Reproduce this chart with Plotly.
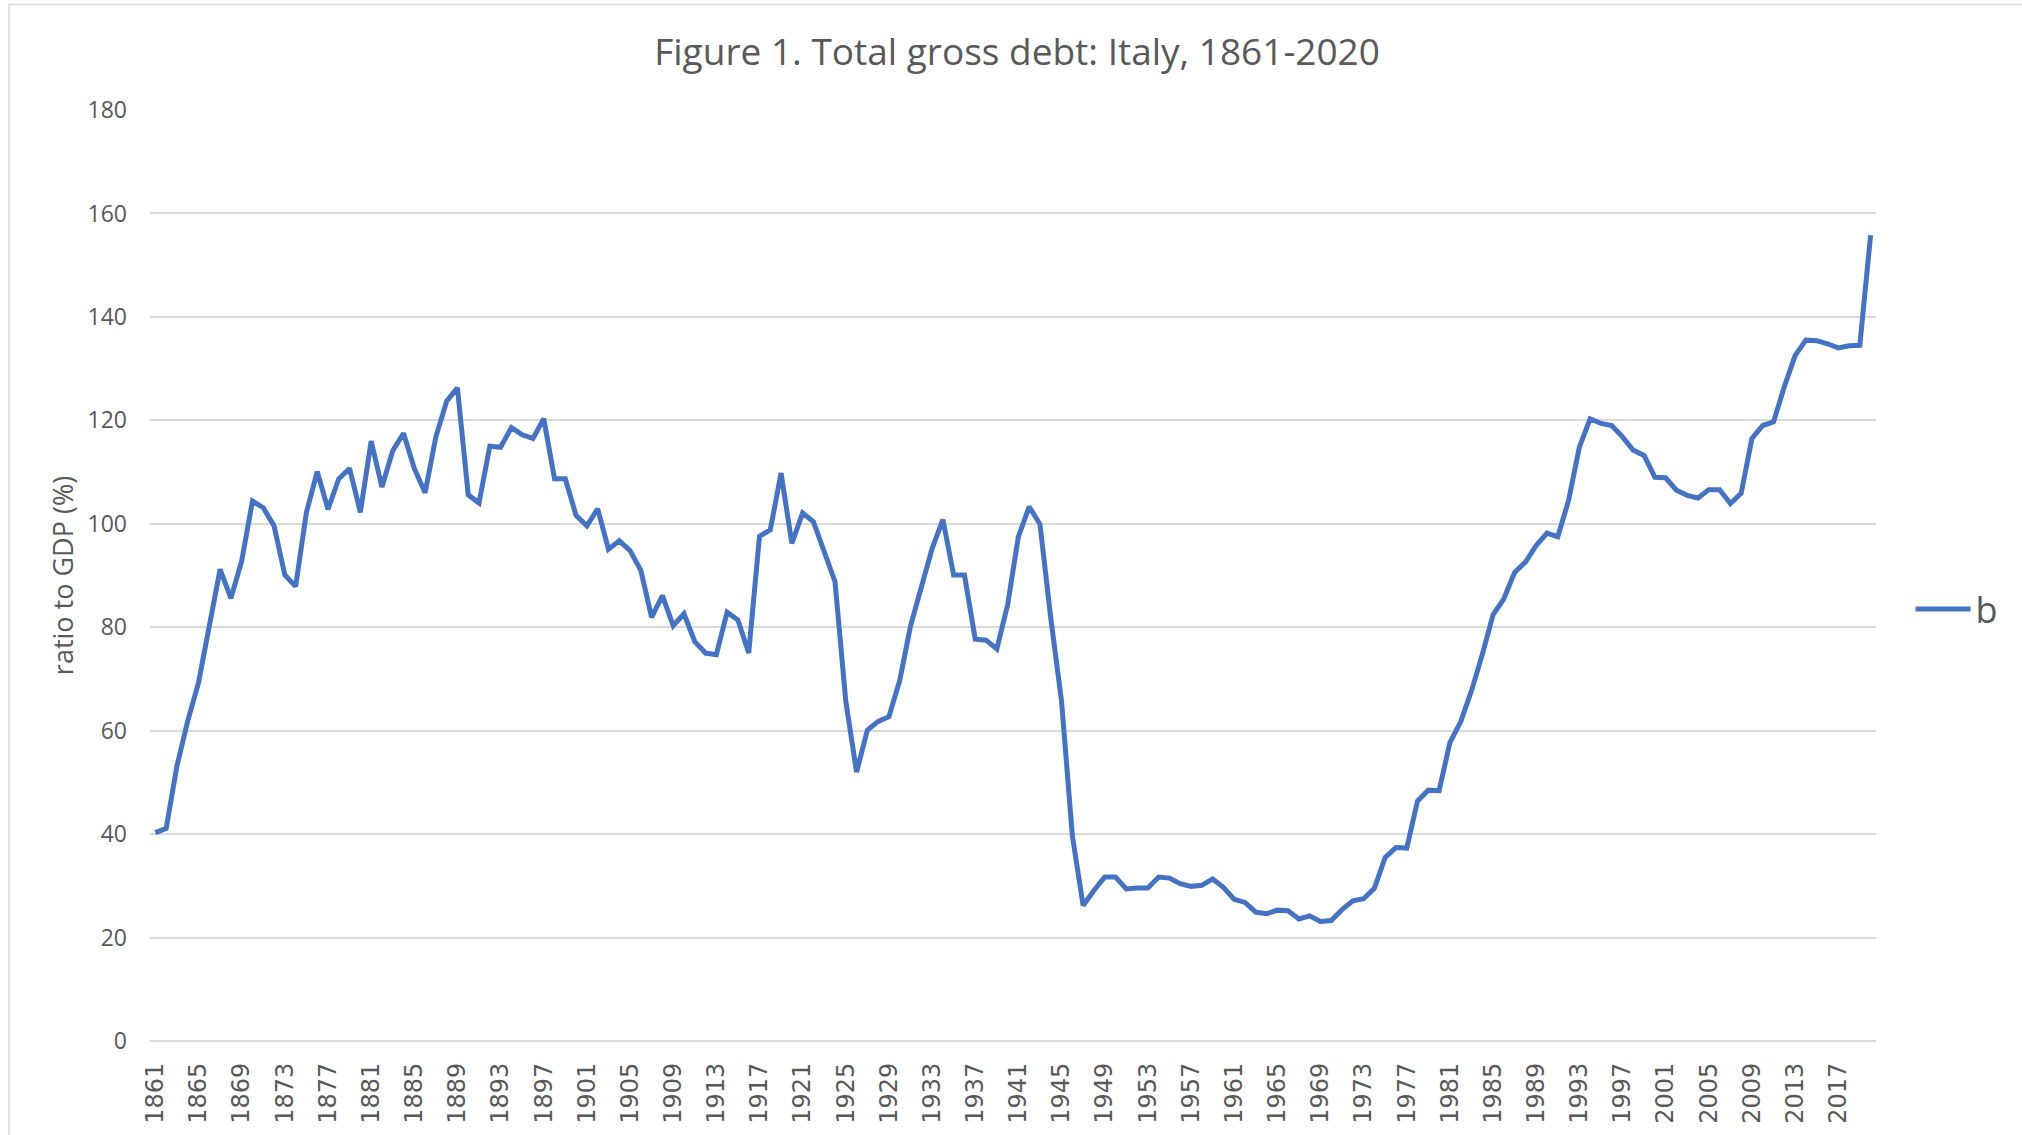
import plotly.graph_objects as go

years = list(range(1861, 2021))
debt_ratio = [
    40.3, 41.1, 53.2, 61.9, 69.3, 80.9, 91.2, 85.6, 92.8, 104.4,
    103.1, 99.6, 90.1, 87.9, 102.2, 110.1, 102.8, 108.7, 110.7, 102.2,
    116.0, 107.1, 114.1, 117.5, 110.7, 106.0, 116.8, 123.7, 126.3, 105.6,
    104.0, 115.0, 114.8, 118.6, 117.2, 116.5, 120.3, 108.7, 108.7, 101.6,
    99.6, 102.9, 95.1, 96.7, 94.8, 91.0, 81.9, 86.1, 80.3, 82.6,
    77.2, 75.0, 74.7, 82.9, 81.4, 75.0, 97.6, 98.8, 109.8, 96.2,
    102.1, 100.4, 94.6, 88.8, 65.7, 52.0, 60.1, 61.8, 62.7, 69.7,
    80.2, 87.5, 95.2, 100.8, 90.1, 90.1, 77.7, 77.5, 75.8, 84.3,
    97.5, 103.3, 99.9, 81.8, 65.7, 39.7, 26.2, 29.1, 31.7, 31.7,
    29.4, 29.6, 29.6, 31.7, 31.5, 30.4, 29.9, 30.1, 31.3, 29.7,
    27.4, 26.8, 24.9, 24.6, 25.3, 25.2, 23.6, 24.2, 23.1, 23.3,
    25.4, 27.1, 27.5, 29.5, 35.5, 37.4, 37.3, 46.4, 48.5, 48.4,
    57.7, 61.7, 67.7, 74.7, 82.4, 85.5, 90.6, 92.6, 95.8, 98.2,
    97.5, 104.5, 114.8, 120.3, 119.4, 119.0, 116.8, 114.2, 113.2, 109.0,
    108.9, 106.5, 105.5, 105.0, 106.6, 106.6, 103.9, 105.9, 116.5, 119.0,
    119.7, 126.5, 132.5, 135.5, 135.4, 134.8, 134.0, 134.4, 134.5, 155.8,
]
x_ticks = years[::4]
y_ticks = list(range(0, 181, 20))

GRID = "#D9D9D9"
TEXT = "#595959"

fig = go.Figure()
fig.add_trace(go.Scatter(
    x=years, y=debt_ratio, mode="lines", name="b",
    line=dict(color="#4472C4", width=5),
))

fig.update_layout(
    width=2022, height=1135,
    paper_bgcolor="white", plot_bgcolor="white",
    margin=dict(l=150, r=146, t=110, b=94),
    title=dict(
        text="Figure 1. Total gross debt: Italy, 1861-2020",
        x=0.503, xanchor="center", y=1 - 52 / 1135, yanchor="middle",
        font=dict(family="Open Sans", size=37, color=TEXT),
    ),
    showlegend=True,
    legend=dict(
        x=1.02, xanchor="left", y=0.464, yanchor="middle",
        itemwidth=55,
        font=dict(family="Open Sans", size=36, color=TEXT),
        bgcolor="rgba(0,0,0,0)",
    ),
    xaxis=dict(
        range=[1860.5, 2020.5], tickmode="array", tickvals=x_ticks,
        ticktext=[str(v) for v in x_ticks], tickangle=-90,
        showgrid=False, zeroline=False, showline=False, ticks="",
        ticklabelstandoff=16,
        tickfont=dict(family="DejaVu Sans", size=24, color=TEXT),
    ),
    yaxis=dict(
        range=[0, 180], tickmode="array", tickvals=y_ticks,
        showgrid=True, gridcolor=GRID, gridwidth=1.5,
        zeroline=True, zerolinecolor=GRID, zerolinewidth=1.5,
        showline=False, ticks="", ticklabelstandoff=22,
        tickfont=dict(family="Open Sans", size=23, color=TEXT),
        title=dict(text="ratio to GDP (%)", standoff=6,
                   font=dict(family="Open Sans", size=27, color=TEXT)),
    ),
)

# chart border (top and left edges visible in the original)
fig.add_shape(type="line", xref="paper", yref="paper",
              x0=(9 - 150) / 1726, x1=(2022 - 150) / 1726,
              y0=(1041 - 4.5) / 931, y1=(1041 - 4.5) / 931,
              line=dict(color=GRID, width=1.5))
fig.add_shape(type="line", xref="paper", yref="paper",
              x0=(9 - 150) / 1726, x1=(9 - 150) / 1726,
              y0=(1041 - 4.5) / 931, y1=(1041 - 1135) / 931,
              line=dict(color=GRID, width=1.5))

fig.write_html("out.html", config={"displayModeBar": False},
               post_script="document.body.style.margin='0';")
